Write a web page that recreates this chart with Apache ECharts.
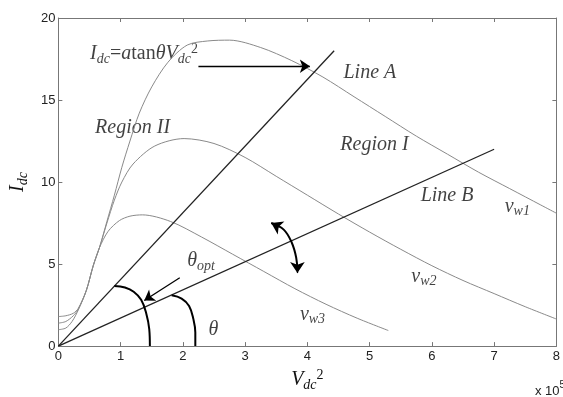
<!DOCTYPE html>
<html>
<head>
<meta charset="utf-8">
<script src="https://cdn.jsdelivr.net/npm/echarts@6/dist/echarts.min.js"></script>
<style>
  html, body { margin: 0; padding: 0; background: #fff; }
  #chart { width: 563px; height: 397px; }
</style>
</head>
<body>
<div id="chart"></div>
<script>
// x axis is V_dc^2 in units of 1e5, y axis is I_dc
const xMin = 0, xMax = 8, xStep = 1
const yMin = 0, yMax = 20, yStep = 5

// curves for three wind speeds
const vw1 = [[0, 1.8], [0.12, 1.85], [0.24, 2.0], [0.32, 2.3], [0.45, 3.4], [0.56, 4.9], [0.66, 6.0], [0.78, 7.6],
  [0.9, 9.2], [1.02, 10.9], [1.15, 12.5], [1.3, 14.2], [1.5, 15.8], [1.76, 17.3], [2.07, 18.35], [2.4, 18.6],
  [2.75, 18.65], [3.25, 18.2], [3.75, 17.4], [4.25, 16.4], [4.75, 15.2], [5.25, 14.0], [5.75, 12.8], [6.25, 11.7],
  [6.75, 10.6], [7.25, 9.6], [7.75, 8.6], [8.0, 8.1]]
const vw2 = [[0, 1.4], [0.12, 1.5], [0.24, 1.85], [0.32, 2.25], [0.45, 3.4], [0.56, 4.9], [0.66, 6.0], [0.78, 7.5],
  [0.9, 8.9], [1.02, 10.0], [1.2, 11.1], [1.55, 12.2], [2.02, 12.65], [2.5, 12.35], [3.0, 11.5], [3.5, 10.35],
  [4.0, 9.2], [4.5, 8.05], [5.0, 6.95], [5.5, 5.9], [6.0, 4.9], [6.5, 4.0], [7.0, 3.2], [7.5, 2.4], [8.0, 1.65]]
const vw3 = [[0, 1.0], [0.12, 1.1], [0.22, 1.5], [0.32, 2.2], [0.45, 3.4], [0.56, 4.9], [0.66, 6.0], [0.8, 7.0],
  [0.98, 7.65], [1.15, 7.92], [1.35, 8.0], [1.8, 7.6], [2.3, 6.65], [2.8, 5.6], [3.3, 4.55], [3.8, 3.5],
  [4.3, 2.55], [4.8, 1.7], [5.3, 0.95]]

// straight lines through the origin
const lineA = [[0, 0], [4.43, 18]]
const lineB = [[0, 0], [7, 12]]

// angle arcs and arrows
const arcOpt = [[0.9, 3.67], [1.07, 3.57], [1.21, 3.31], [1.33, 2.82], [1.41, 2.02], [1.46, 1.03], [1.47, 0]]
const arcTheta = [[1.82, 3.1], [1.98, 2.9], [2.1, 2.45], [2.17, 1.63], [2.2, 0.83], [2.2, 0]]
const swing = [[3.42, 7.5], [3.62, 7.1], [3.75, 6.3], [3.82, 5.4], [3.84, 4.6]]
const arrowTop = [[2.25, 17.06], [4.04, 17.06]]
const arrowOpt = [[1.95, 4.17], [1.38, 2.78]]
const swingHeads = [[[3.55, 7.25], [3.42, 7.5]], [[3.84, 4.9], [3.84, 4.45]]]

// text notes: position is left edge / vertical middle
const notePos = [[0.51, 17.8], [4.58, 16.65], [0.59, 13.3], [4.53, 12.3], [5.82, 9.15],
  [7.17, 8.5], [5.67, 4.24], [3.88, 1.94], [2.07, 5.18], [2.41, 1.0]]
const noteText = [
  '{i|I}{sub|dc}{n|=}{i|a}{n|tan}{i|θV}{sub|dc}{sup|2}',
  '{i|Line A}', '{i|Region II}', '{i|Region I}', '{i|Line B}',
  '{i|v}{sub|w1}', '{i|v}{sub|w2}', '{i|v}{sub|w3}', '{i|θ}{sub|opt}', '{i|θ}'
]

const serif = 'Liberation Serif'
const sans = 'Liberation Sans'
const rich = {
  i: { fontFamily: serif, fontStyle: 'italic', fontSize: 20, lineHeight: 24, color: '#111' },
  n: { fontFamily: serif, fontSize: 20, lineHeight: 24, color: '#111' },
  sub: { fontFamily: serif, fontStyle: 'italic', fontSize: 14, lineHeight: 14, verticalAlign: 'bottom', color: '#111' },
  sup: { fontFamily: serif, fontSize: 14, lineHeight: 14, verticalAlign: 'top', color: '#111' },
}

const axisGray = '#777'
function boxAxis(min, max, step, pos, showLabel) {
  return {
    type: 'value', min: min, max: max, interval: step, position: pos,
    axisLine: { show: true, onZero: false, lineStyle: { color: axisGray, width: 1 } },
    axisTick: { show: true, inside: true, length: 4, lineStyle: { color: axisGray } },
    axisLabel: { show: showLabel, color: '#222', fontFamily: sans, fontSize: 13, margin: 4 },
    splitLine: { show: false },
  }
}

function arrowLines(pairs, size) {
  return {
    silent: true, animation: false, symbol: ['none', 'arrow'], symbolSize: size,
    label: { show: false },
    lineStyle: { color: '#000', width: 1.3, type: 'solid' },
    itemStyle: { color: '#000' },
    emphasis: { disabled: true },
    data: pairs.map(p => [{ coord: p[0] }, { coord: p[1] }]),
  }
}

const gray = { color: '#8a8a8a', width: 1 }
const dark = { color: '#222', width: 1.3 }
const black = { color: '#000', width: 2 }

function plain(data, style, smooth) {
  return { type: 'line', data: data, showSymbol: false, smooth: smooth, lineStyle: style, silent: true, animation: false }
}

const xName = boxAxis(xMin, xMax, xStep, 'bottom', true)
xName.name = '{i|V}{sub|dc}{sup|2}'
xName.nameLocation = 'middle'
xName.nameGap = 14
xName.nameTextStyle = { rich: rich }

const yName = boxAxis(yMin, yMax, yStep, 'left', true)
yName.axisLabel.margin = 3
yName.name = '{i|I}{sub|dc}'
yName.nameLocation = 'middle'
yName.nameGap = 20
yName.nameTextStyle = { rich: rich }

const myChart = echarts.init(document.getElementById('chart'))
const option = {
  backgroundColor: '#fff',
  animation: false,
  grid: { left: 50, top: 18, width: 515, height: 340 },
  xAxis: [xName, boxAxis(xMin, xMax, xStep, 'top', false)],
  yAxis: [yName, boxAxis(yMin, yMax, yStep, 'right', false)],
  series: [
    plain(vw1, gray, 0.3),
    plain(vw2, gray, 0.3),
    plain(vw3, gray, 0.3),
    plain(lineA, dark, false),
    Object.assign(plain(lineB, dark, false), { markLine: arrowLines([arrowTop, arrowOpt], 10) }),
    plain(arcOpt, black, 0.4),
    plain(arcTheta, black, 0.4),
    Object.assign(plain(swing, black, 0.4), { markLine: arrowLines(swingHeads, 11) }),
    {
      type: 'scatter', symbolSize: 0, silent: true, animation: false,
      data: notePos,
      label: {
        show: true, position: 'right', distance: 0,
        formatter: p => noteText[p.dataIndex],
        rich: rich,
      },
    },
  ],
  graphic: [{
    type: 'text', left: 535, top: 380,
    style: { text: '{s|x 10}{t|5}', rich: {
      s: { fontFamily: sans, fontSize: 13, lineHeight: 18, verticalAlign: 'bottom', fill: '#222' },
      t: { fontFamily: sans, fontSize: 10, lineHeight: 10, verticalAlign: 'top', fill: '#222' },
    } },
  }],
}
option && myChart.setOption(option)
</script>
</body>
</html>
